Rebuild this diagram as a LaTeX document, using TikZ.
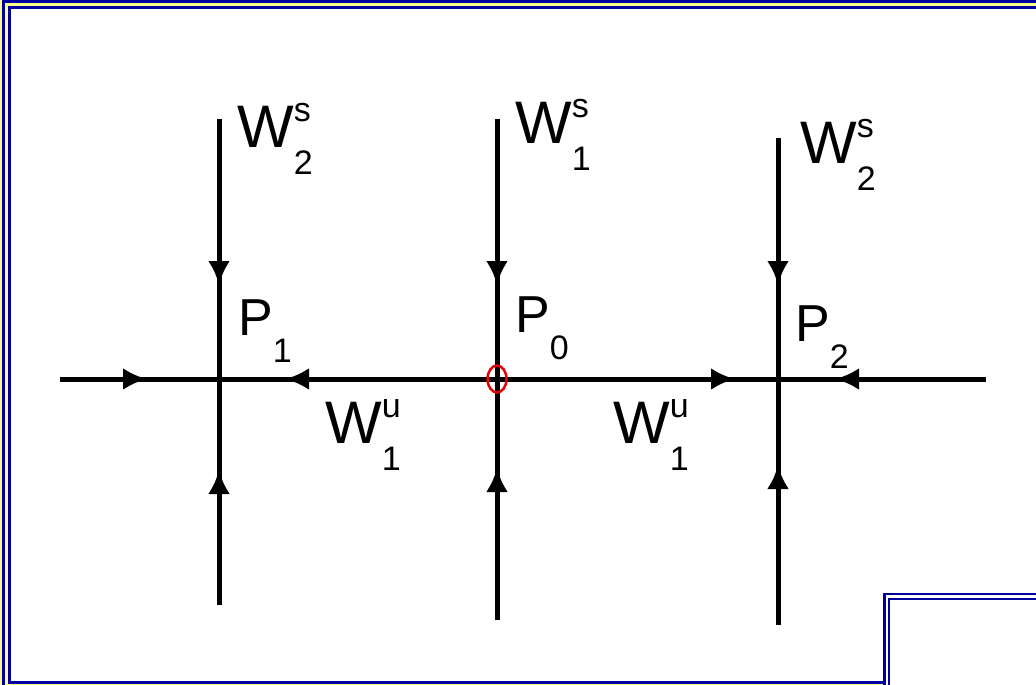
\documentclass[tikz,border=0pt]{standalone}
\usepackage{fontspec}
\setmainfont{Liberation Sans}
\usepackage{xcolor}
\usetikzlibrary{arrows.meta, shapes.geometric, decorations.markings}
\definecolor{frameblue}{RGB}{0, 0, 160}
\definecolor{frameyellow}{RGB}{255, 255, 140}
\definecolor{markred}{RGB}{230, 0, 0}

\newcommand{\manif}[3]{#1\makebox[0pt][l]{\raisebox{26pt}{\fontsize{34}{34}\selectfont #2}}\raisebox{-27pt}{\fontsize{34}{34}\selectfont #3}}
\newcommand{\fixpt}[2]{#1\raisebox{-27pt}{\fontsize{34}{34}\selectfont #2}}

\begin{document}
\begin{tikzpicture}[x=1pt, y=-1pt,
  flow/.style={line width=5pt},
  tipat/.style={postaction={decorate, decoration={markings,
      mark=at position #1 with {\arrow{Latex[length=24pt,width=22pt]}}}}},
  lbl/.style={anchor=base west, inner sep=0pt, font=\fontsize{60}{60}\selectfont},
  plbl/.style={anchor=base west, inner sep=0pt, font=\fontsize{52}{52}\selectfont}]

\useasboundingbox (0,0) rectangle (1036,685);
\clip (0,0) rectangle (1036,685);

% Frame
\fill[frameyellow] (0,0) rectangle (1036,685);
\draw[frameblue, line width=3pt] (3.5,2) rectangle (1050,700);
\filldraw[fill=white, draw=frameblue, line width=3pt] (9.5,7.5) rectangle (1050,682.5);
\filldraw[fill=white, draw=frameblue, line width=2.5pt] (884.5,594) rectangle (1050,700);
\draw[frameblue, line width=2pt] (889,599) rectangle (1050,700);

% Fixed points
\coordinate (P1) at (219,379);
\coordinate (P0) at (497,379);
\coordinate (P2) at (778,379);

% Ends of the manifolds
\coordinate (left) at (60,379);
\coordinate (right) at (986,379);
\coordinate (top1) at (219,119);
\coordinate (bot1) at (219,605);
\coordinate (top0) at (497,119);
\coordinate (bot0) at (497,620);
\coordinate (top2) at (778,138);
\coordinate (bot2) at (778,625);

% Unstable manifold
\draw[flow, tipat=87pt] (left) -- (P1);
\draw[flow, tipat=212pt] (P0) -- (P1);
\draw[flow, tipat=238pt] (P0) -- (P2);
\draw[flow, tipat=151pt] (right) -- (P2);

% Stable manifolds
\draw[flow, tipat=166pt] (top1) -- (P1);
\draw[flow, tipat=135pt] (bot1) -- (P1);
\draw[flow, tipat=166pt] (top0) -- (P0);
\draw[flow, tipat=152pt] (bot0) -- (P0);
\draw[flow, tipat=147pt] (top2) -- (P2);
\draw[flow, tipat=160pt] (bot2) -- (P2);

% Mark on P0
\node[ellipse, draw=markred, line width=2.5pt, inner sep=0pt,
      minimum width=19pt, minimum height=27pt] (P0ring) at (P0) {};

% Labels
\node[lbl] (Ws2a) at (237,147) {\manif{W}{s}{2}};
\node[lbl] (Ws1) at (515,143) {\manif{W}{s}{1}};
\node[lbl] (Ws2b) at (800,163) {\manif{W}{s}{2}};
\node[plbl] (P1lbl) at (238,335) {\fixpt{P}{1}};
\node[plbl] (P0lbl) at (515,332) {\fixpt{P}{0}};
\node[plbl] (P2lbl) at (795,341) {\fixpt{P}{2}};
\node[lbl] (Wu1a) at (325,443) {\manif{W}{u}{1}};
\node[lbl] (Wu1b) at (613,443) {\manif{W}{u}{1}};

\end{tikzpicture}
\end{document}
